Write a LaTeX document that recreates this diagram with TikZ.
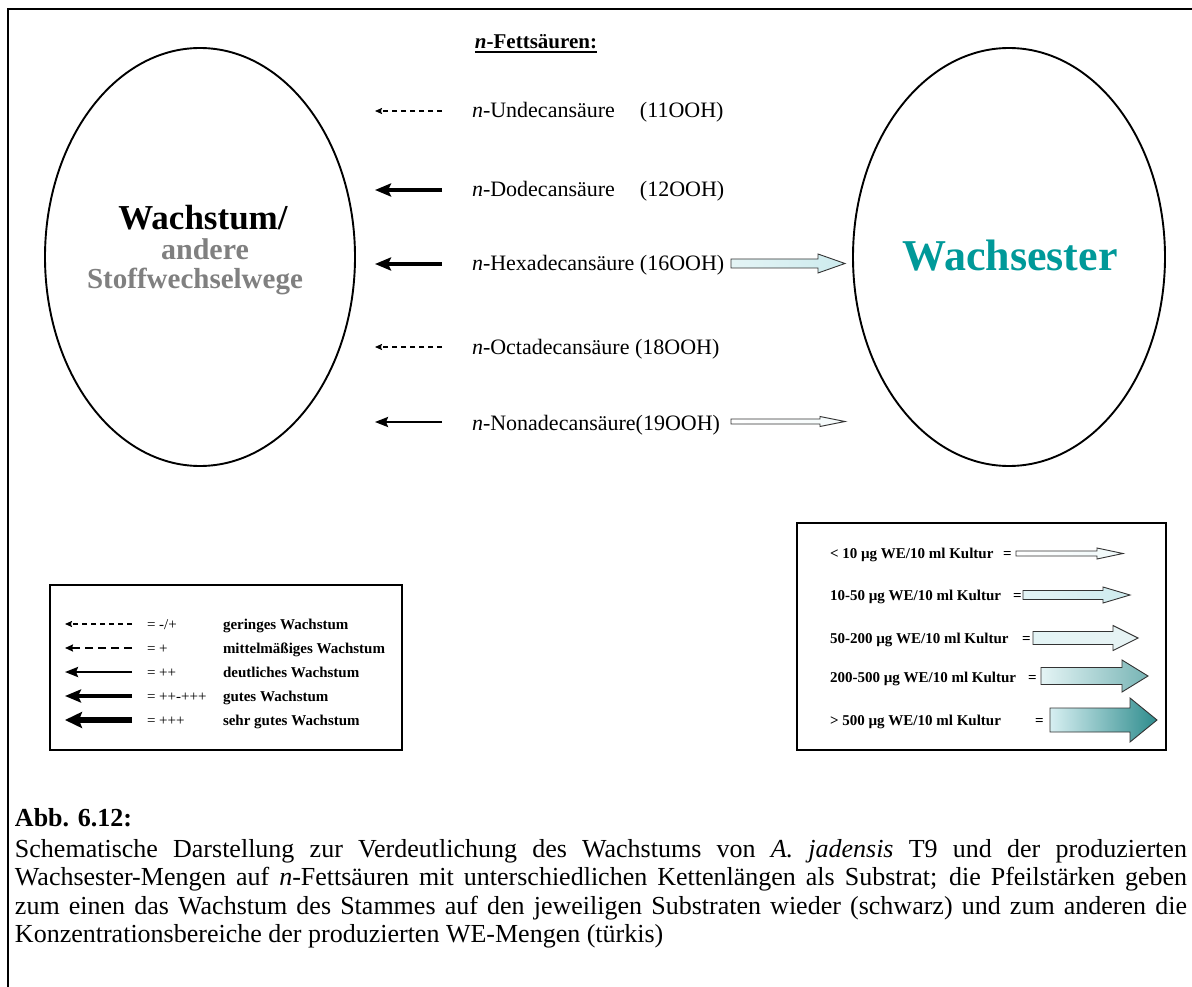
\documentclass[tikz,border=0pt]{standalone}
\usepackage{fontspec}
\setmainfont{Liberation Serif}
\usetikzlibrary{arrows.meta,shapes.geometric}

\definecolor{wetext}{HTML}{009999}
\definecolor{othertext}{HTML}{808080}
\definecolor{outline}{HTML}{333333}
\definecolor{welight}{HTML}{E4F4F5}
\definecolor{wepale}{HTML}{CDEBEE}
\definecolor{wedark}{HTML}{2E8C8D}

% block arrow: #1 tail x, #2 head base x, #3 tip x, #4 axis y,
% #5 half shaft height, #6 half head height, #7 left colour, #8 right colour
\newcommand{\wearrow}[8]{%
  \path[draw=outline, line width=0.9pt, left color=#7, right color=#8]
    (#1,#4-#5) -- (#2,#4-#5) -- (#2,#4-#6) -- (#3,#4)
    -- (#2,#4+#6) -- (#2,#4+#5) -- (#1,#4+#5) -- cycle;}

\begin{document}
\begin{tikzpicture}[x=1pt,y=-1pt,
  every node/.style={inner sep=0pt, outer sep=0pt},
  acid/.style={anchor=base west, font=\fontsize{22}{26}\selectfont},
  legtxt/.style={anchor=base west, font=\fontsize{15}{18}\selectfont},
  legbold/.style={anchor=base west, font=\fontsize{15}{18}\selectfont\bfseries},
  pool/.style={draw, ellipse, line width=1.9pt},
  growthA/.style={line width=1.4pt, dash pattern=on 5pt off 4pt,
    -{Stealth[length=7pt,width=6pt,inset=1pt]}},
  growthB/.style={line width=1.8pt, dash pattern=on 8pt off 5pt,
    -{Stealth[length=8pt,width=7pt,inset=1pt]}},
  growthC/.style={line width=2.5pt, -{Stealth[length=13pt,width=10pt,inset=2pt]}},
  growthD/.style={line width=3.8pt, -{Stealth[length=16pt,width=13pt,inset=3pt]}},
  growthE/.style={line width=5.5pt, -{Stealth[length=17pt,width=16pt,inset=3pt]}},
  box/.style={draw, line width=1.4pt}
]
\useasboundingbox (0,0) rectangle (1192,987);
\fill[white] (0,0) rectangle (1192,987);

% outer frame (only left and top edges fall inside the page)
\draw[line width=2.2pt] (8,987) -- (8,9) -- (1192,9);

% the two pools
\node[pool, minimum width=310pt, minimum height=418pt] (growth) at (200,257) {};
\node[pool, minimum width=312pt, minimum height=418pt] (ester) at (1009,257) {};

\node[anchor=base, font=\fontsize{35}{40}\selectfont\bfseries] (w1) at (203,230) {Wachstum/};
\node[anchor=base, font=\fontsize{30}{34}\selectfont\bfseries, text=othertext] (w2) at (205,260) {andere};
\node[anchor=base, font=\fontsize{29}{34}\selectfont\bfseries, text=othertext] (w3) at (195,288) {Stoffwechselwege};

\node[anchor=base, font=\fontsize{44}{50}\selectfont\bfseries, text=wetext] (we) at (1010,271) {Wachsester};

% heading
\node[anchor=base, font=\fontsize{21}{25}\selectfont\bfseries] (head) at (536,49) {\textit{n}-Fettsäuren:};
\draw[line width=1.4pt] ([yshift=-3pt]head.base west) -- ([yshift=-3pt]head.base east);

% fatty acids
\node[acid] (c11) at (472,118) {\makebox[168pt][l]{\textit{n}-Undecansäure}(11OOH)};
\node[acid] (c12) at (472,197) {\makebox[168pt][l]{\textit{n}-Dodecansäure}(12OOH)};
\node[acid] (c16) at (472,271) {\textit{n}-Hexadecansäure (16OOH)};
\node[acid] (c18) at (472,354) {\textit{n}-Octadecansäure (18OOH)};
\node[acid] (c19) at (472,430) {\textit{n}-Nonadecansäure(19OOH)};

% growth arrows towards the left pool
\coordinate (s11) at (442,111); \coordinate (e11) at (375,111);
\coordinate (s12) at (442,190); \coordinate (e12) at (375,190);
\coordinate (s16) at (442,264); \coordinate (e16) at (375,264);
\coordinate (s18) at (442,347); \coordinate (e18) at (375,347);
\coordinate (s19) at (442,422); \coordinate (e19) at (375,422);
\draw[growthA] (s11) -- (e11);
\draw[growthD] (s12) -- (e12);
\draw[growthD] (s16) -- (e16);
\draw[growthA] (s18) -- (e18);
\draw[growthC] (s19) -- (e19);

% wax ester arrows towards the right pool
\wearrow{731}{818}{845}{263.5}{4.5}{9.5}{welight}{wepale}
\wearrow{731}{820}{845}{421.5}{2.5}{5}{white}{welight!40!white}

% legend: growth
\draw[box] (50,585) rectangle (402,750);
\coordinate (ga) at (132,624); \coordinate (gA) at (65,624);
\coordinate (gb) at (132,648); \coordinate (gB) at (65,648);
\coordinate (gc) at (132,672); \coordinate (gC) at (65,672);
\coordinate (gd) at (132,696); \coordinate (gD) at (65,696);
\coordinate (ge) at (132,720); \coordinate (gE) at (65,720);
\draw[growthA] (ga) -- (gA);
\draw[growthB] (gb) -- (gB);
\draw[growthC] (gc) -- (gC);
\draw[growthD] (gd) -- (gD);
\draw[growthE] (ge) -- (gE);
\node[legtxt] (ra) at (147,629) {=\ -/+};
\node[legtxt] (rb) at (147,653) {=\ +};
\node[legtxt] (rc) at (147,677) {=\ ++};
\node[legtxt] (rd) at (147,701) {=\ ++-+++};
\node[legtxt] (re) at (147,725) {=\ +++};
\node[legbold] (da) at (223,629) {geringes Wachstum};
\node[legbold] (db) at (223,653) {mittelmäßiges Wachstum};
\node[legbold] (dc) at (223,677) {deutliches Wachstum};
\node[legbold] (dd) at (223,701) {gutes Wachstum};
\node[legbold] (de) at (223,725) {sehr gutes Wachstum};

% legend: wax ester amounts
\draw[box] (797,523) rectangle (1166,750);
\node[legbold] (wa) at (830,558) {\makebox[173pt][l]{< 10 µg WE/10 ml Kultur}=};
\node[legbold] (wb) at (830,600) {\makebox[183pt][l]{10-50 µg WE/10 ml Kultur}=};
\node[legbold] (wc) at (830,643) {\makebox[192pt][l]{50-200 µg WE/10 ml Kultur}=};
\node[legbold] (wd) at (830,682) {\makebox[198pt][l]{200-500 µg WE/10 ml Kultur}=};
\node[legbold] (wf) at (830,725) {\makebox[205pt][l]{> 500 µg WE/10 ml Kultur}=};
\wearrow{1016}{1097}{1123}{553.5}{2.5}{5.5}{white}{welight!60!white}
\wearrow{1023}{1103}{1130}{595}{4.5}{8}{welight}{wepale}
\wearrow{1033}{1113}{1138}{638}{6.5}{12.5}{welight}{wepale!70!wedark!25!white}
\wearrow{1041}{1122}{1148}{676}{8.5}{16}{welight}{wedark!65!white}
\wearrow{1050}{1130}{1157}{720}{12}{22}{wepale!80!white}{wedark}

% caption
\node[anchor=base west, font=\fontsize{26}{28.6}\selectfont\bfseries] (abb) at (15,826) {Abb. 6.12:};
\node[anchor=north west, text width=1172pt, align=justify,
      font=\fontsize{26}{28.6}\selectfont] (cap) at (15,839)
  {\parindent=0pt\hyphenpenalty=10000\exhyphenpenalty=10000
   Schematische Darstellung zur Verdeutlichung des Wachstums von \textit{A. jadensis} T9 und der produzierten\linebreak
   Wachsester-Mengen auf \textit{n}-Fettsäuren mit unterschiedlichen Kettenlängen als Substrat; die Pfeilstärken geben\linebreak
   zum einen das Wachstum des Stammes auf den jeweiligen Substraten wieder (schwarz) und zum anderen die\linebreak
   Konzentrationsbereiche der produzierten WE-Mengen (türkis)};
\end{tikzpicture}
\end{document}
